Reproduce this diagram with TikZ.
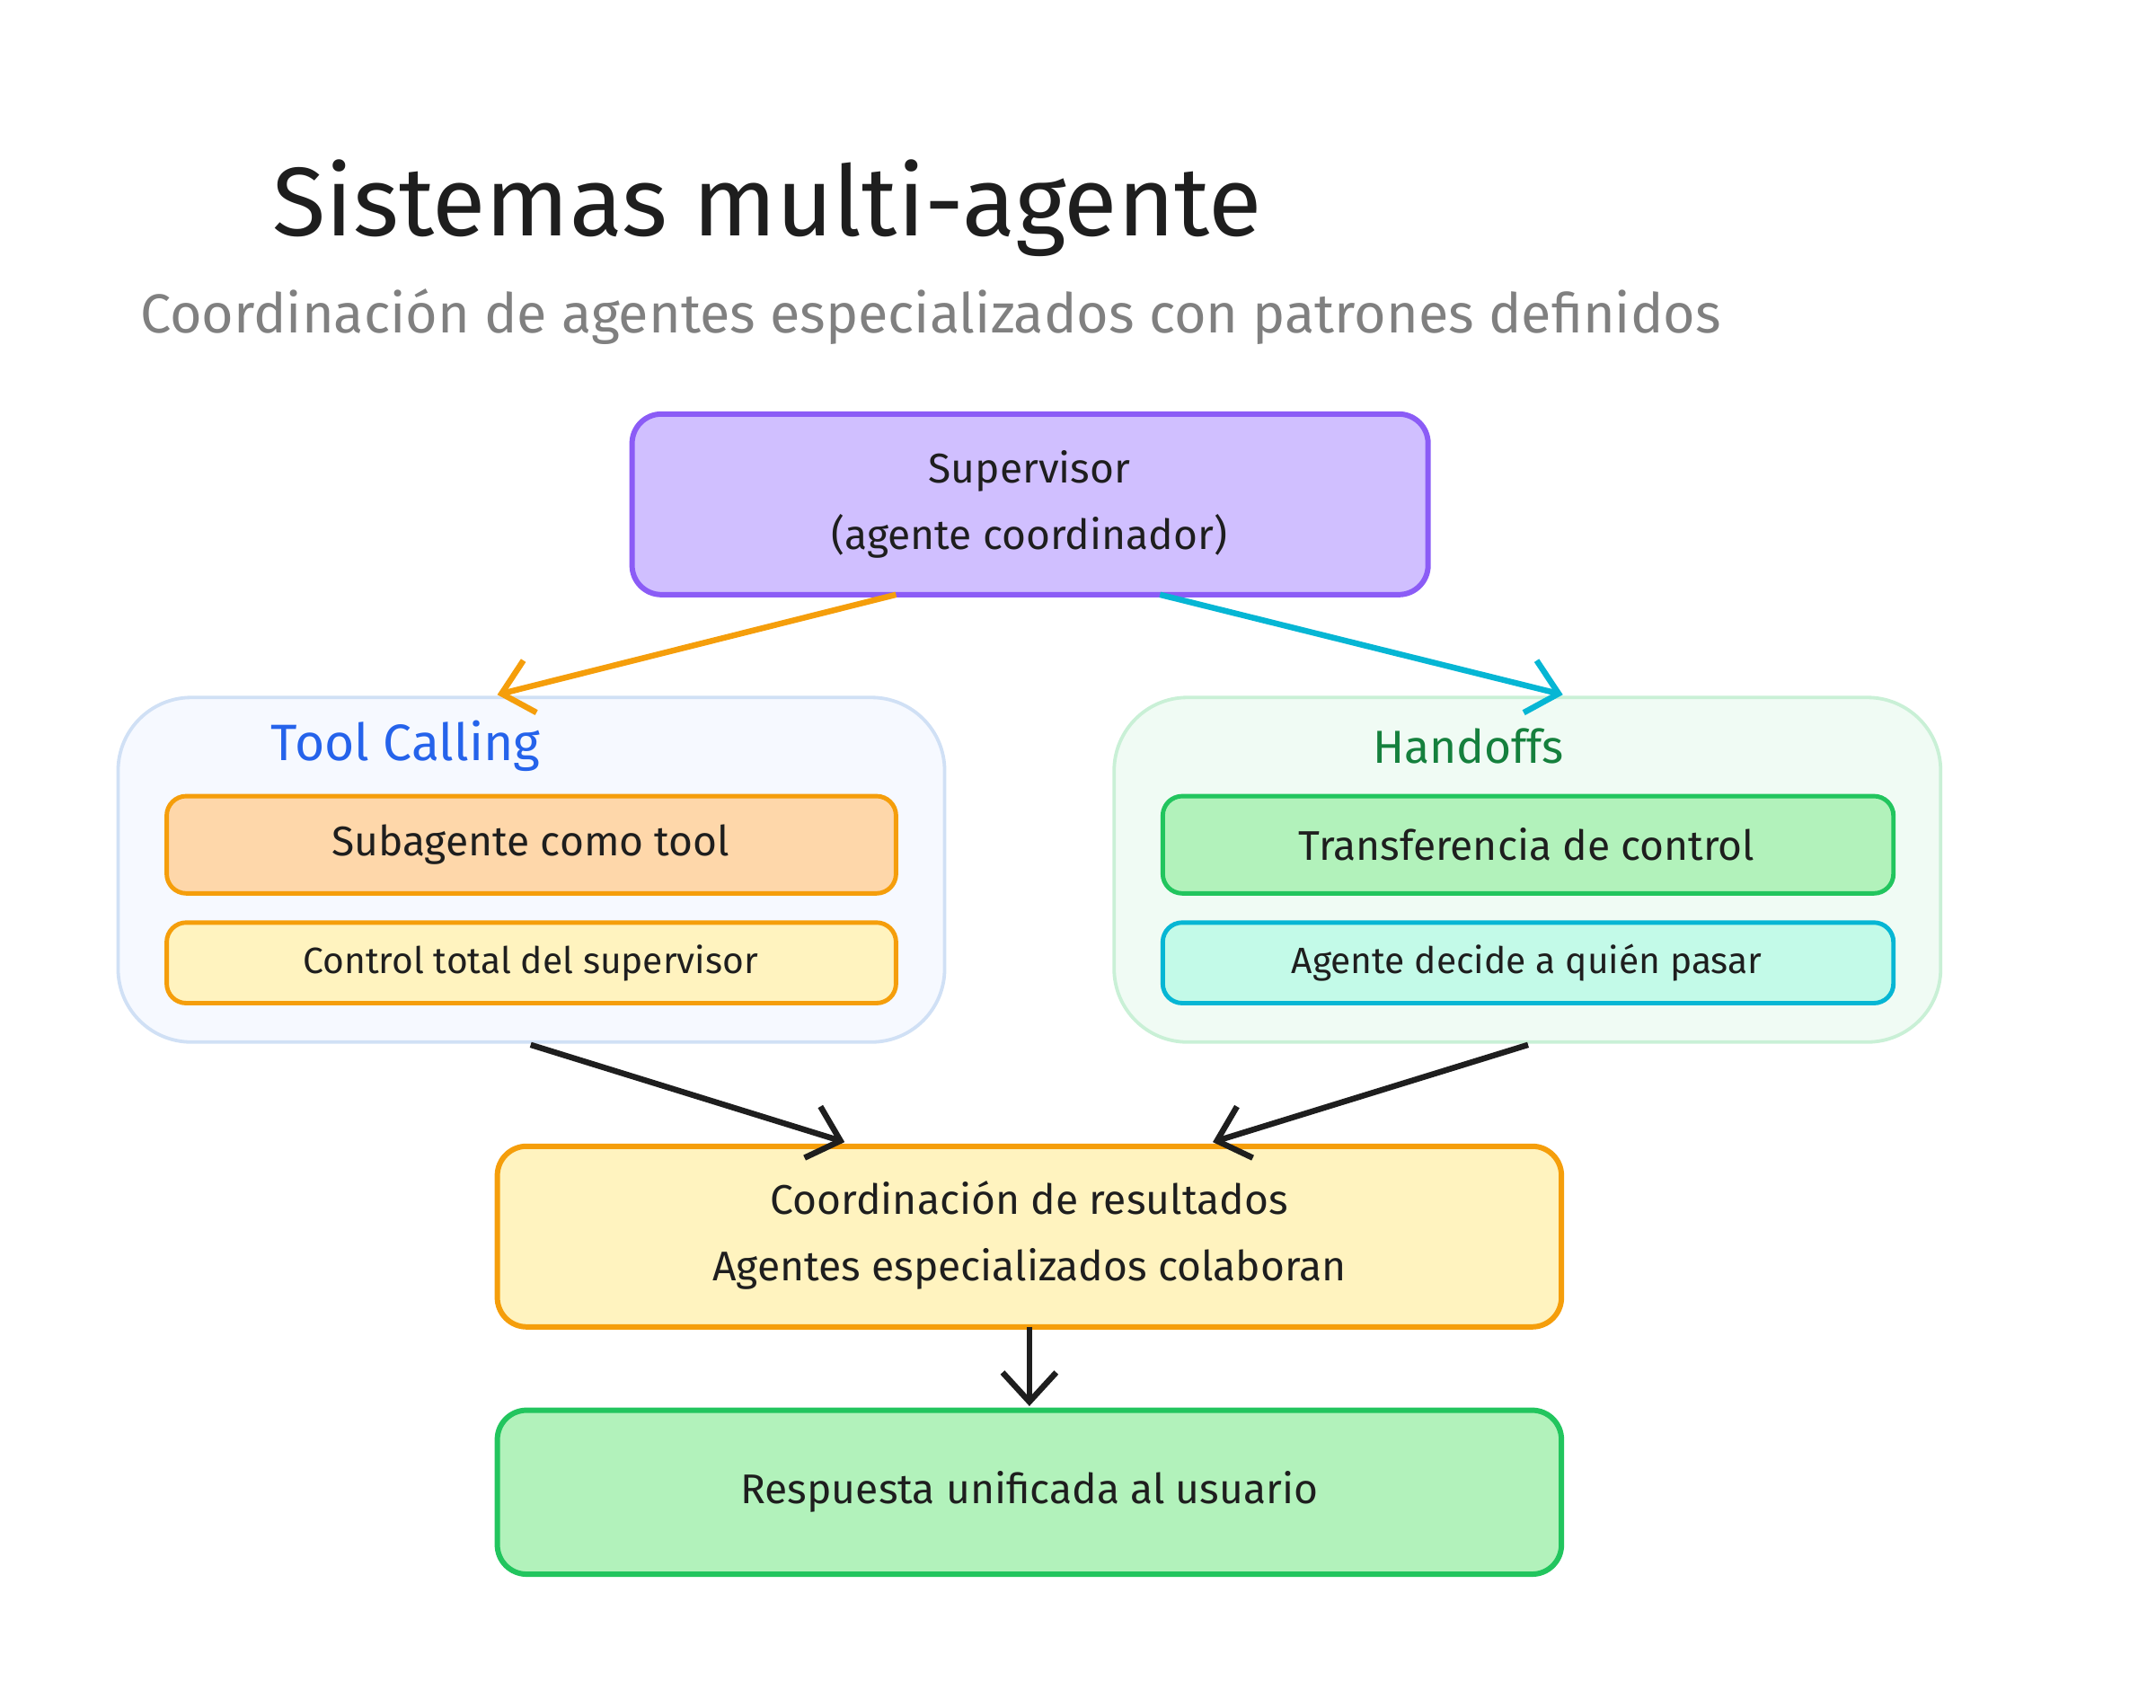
\documentclass[tikz,border=0pt]{standalone}
\usepackage{fontspec}
\setmainfont{Fira Sans}
\usetikzlibrary{arrows.meta}
\definecolor{violetD}{HTML}{8B5CF6}\definecolor{violetF}{HTML}{D0BFFF}
\definecolor{orD}{HTML}{F59E0B}\definecolor{orF}{HTML}{FED7AA}
\definecolor{yelF}{HTML}{FFF3BF}\definecolor{grD}{HTML}{22C55E}\definecolor{grF}{HTML}{B2F2BB}
\definecolor{cyD}{HTML}{06B6D4}\definecolor{cyF}{HTML}{C3FAE8}
\definecolor{blT}{HTML}{2563EB}\definecolor{grT}{HTML}{15803D}
\definecolor{inkC}{HTML}{1E1E1E}
\begin{document}
\begin{tikzpicture}[x=0.02cm,y=-0.02cm,
 box/.style={draw,line width=2.2pt,rounded corners=12pt},
 grp/.style={draw,line width=1.4pt,rounded corners=30pt},
 txt/.style={font=\fontsize{17}{27}\selectfont,text=inkC,align=center},
 arr/.style={line width=2.4pt,-{Straight Barb[length=12pt,width=22pt]}}]
\useasboundingbox (0,0) rectangle (1552,1229);
\node[font=\fontsize{40}{48}\selectfont,text=inkC,anchor=base west] (title) at (190,170) {Sistemas multi-agente};
\node[font=\fontsize{22.5}{26}\selectfont,text=gray] (sub) at (670,228) {Coordinación de agentes especializados con patrones definidos};
\draw[box,draw=violetD,fill=violetF] (455,298) rectangle (1028,428);
\node[txt] (sup) at (741,363) {Supervisor\\(agente coordinador)};
\draw[grp,draw={rgb,255:red,208;green,224;blue,245},fill={rgb,255:red,246;green,249;blue,255}] (85,502) rectangle (680,750);
\node[font=\fontsize{21}{24}\selectfont,text=blT] (tc) at (292,537) {Tool Calling};
\draw[box,line width=1.8pt,rounded corners=8pt,draw=orD,fill=orF] (120,573) rectangle (645,643);
\node[txt] (sa) at (382,608) {Subagente como tool};
\draw[box,line width=1.8pt,rounded corners=8pt,draw=orD,fill=yelF] (120,664) rectangle (645,722);
\node[txt,font=\fontsize{15}{20}\selectfont] (ct) at (382,693) {Control total del supervisor};
\draw[grp,draw={rgb,255:red,201;green,240;blue,214},fill={rgb,255:red,240;green,251;blue,244}] (802,502) rectangle (1397,750);
\node[font=\fontsize{19}{24}\selectfont,text=grT] (ho) at (1057,537) {Handoffs};
\draw[box,line width=1.8pt,rounded corners=8pt,draw=grD,fill=grF] (837,573) rectangle (1363,643);
\node[txt] (tr) at (1099,608) {Transferencia de control};
\draw[box,line width=1.8pt,rounded corners=8pt,draw=cyD,fill=cyF] (837,664) rectangle (1363,722);
\node[txt,font=\fontsize{15}{20}\selectfont] (ad) at (1099,693) {Agente decide a quién pasar};
\draw[box,draw=orD,fill=yelF] (358,825) rectangle (1124,955);
\node[txt] (co) at (741,889) {Coordinación de resultados\\Agentes especializados colaboran};
\draw[box,draw=grD,fill=grF] (358,1015) rectangle (1124,1133);
\node[txt] (re) at (741,1074) {Respuesta unificada al usuario};
\coordinate (a1) at (645,428); \coordinate (a2) at (358,500);
\coordinate (b1) at (835,428); \coordinate (b2) at (1125,500);
\coordinate (c1) at (382,752); \coordinate (c2) at (608,822);
\coordinate (d1) at (1100,752); \coordinate (d2) at (873,822);
\coordinate (e1) at (741,955); \coordinate (e2) at (741,1012);
\draw[arr,orD] (a1) -- (a2);
\draw[arr,cyD] (b1) -- (b2);
\draw[arr,inkC] (c1) -- (c2);
\draw[arr,inkC] (d1) -- (d2);
\draw[arr,inkC] (e1) -- (e2);
\end{tikzpicture}
\end{document}
